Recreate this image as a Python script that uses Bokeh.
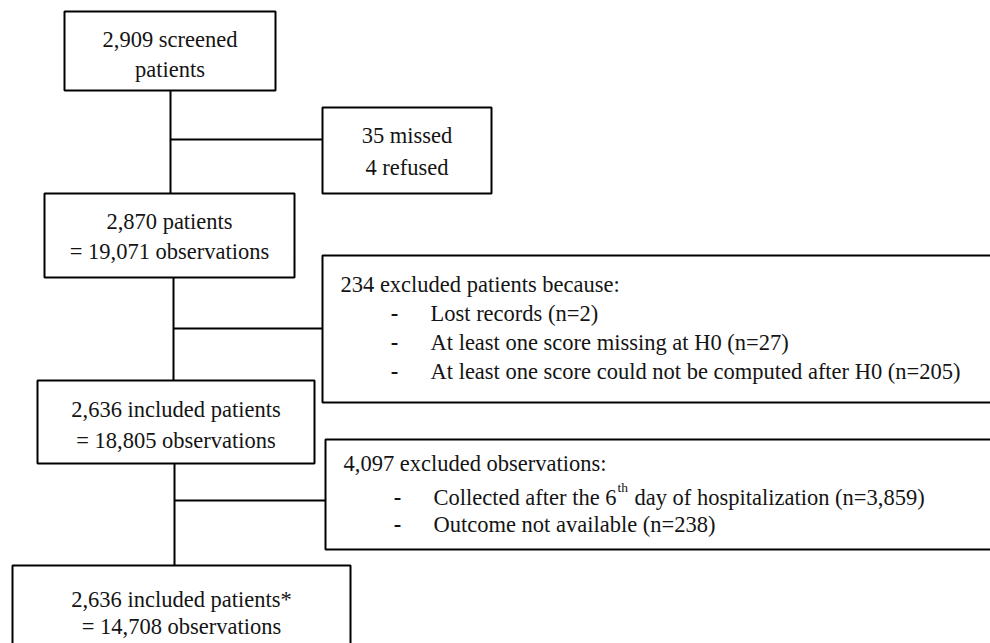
from bokeh.plotting import figure
from bokeh.models import Range1d
from bokeh.embed import file_html
from bokeh.resources import INLINE
from bokeh.core.properties import value

# ---------------- data (texts of the flow chart) ----------------
screened_lines = ["2,909 screened", "patients"]
refused_lines = ["35 missed", "4 refused"]
enrolled_lines = ["2,870 patients", "= 19,071 observations"]
excl_patients_header = "234 excluded patients because:"
excl_patients_items = ["Lost records (n=2)",
                       "At least one score missing at H0 (n=27)",
                       "At least one score could not be computed after H0 (n=205)"]
included_lines = ["2,636 included patients", "= 18,805 observations"]
excl_obs_header = "4,097 excluded observations:"
excl_obs_item1 = ["Collected after the 6", "th", " day of hospitalization (n=3,859)"]
excl_obs_item2 = "Outcome not available (n=238)"
final_lines = ["2,636 included patients*", "= 14,708 observations"]

# ---------------- layout (pixel space of the page) ----------------
FONT = value("Liberation Serif")
FS = "22.5px"
TXT = "#141414"

p = figure(width=990, height=643, output_backend="svg", toolbar_location=None,
           x_range=Range1d(0, 990), y_range=Range1d(643, 0),
           x_axis_location=None, y_axis_location=None, min_border=0)
p.grid.visible = False
p.outline_line_color = None

# boxes: left, right, top, bottom
boxes = [
    (64, 275, 11, 90),      # screened
    (322, 491, 107, 193),   # missed / refused
    (44, 294, 193, 277),    # 2,870 patients
    (322, 1010, 255, 402),  # 234 excluded
    (37, 314, 380, 463),    # 2,636 included
    (325, 1010, 439, 549),  # 4,097 excluded
    (12, 350, 565, 670),    # final
]
p.quad(left=[b[0] for b in boxes], right=[b[1] for b in boxes],
       top=[b[2] for b in boxes], bottom=[b[3] for b in boxes],
       fill_color="white", line_color="black", line_width=2)

# connectors
seg = [
    (170, 90, 170, 193),
    (170, 139, 322, 139),
    (173, 277, 173, 380),
    (173, 328, 322, 328),
    (174, 463, 174, 565),
    (174, 500, 325, 500),
]
p.segment(x0=[s[0] for s in seg], y0=[s[1] for s in seg],
          x1=[s[2] for s in seg], y1=[s[3] for s in seg],
          line_color="black", line_width=2)

# centred box texts (y = vertical middle of each line)
centred = [
    (screened_lines, 169.5, [39, 69]),
    (refused_lines, 406.5, [135, 167]),
    (enrolled_lines, 169, [221, 251]),
    (included_lines, 175.5, [409, 440]),
    (final_lines, 181, [599, 626]),
]
cx, cy, ct = [], [], []
for lines, x, ys in centred:
    for t, y in zip(lines, ys):
        cx.append(x); cy.append(y); ct.append(t)
p.text(x=cx, y=cy, text=ct, text_font=FONT, text_font_size=FS,
       text_align="center", text_baseline="middle", text_color=TXT)

# left aligned texts of the exclusion boxes
lx = [340, 430, 430, 430, 343, 433]
ly = [284, 313, 342, 371, 463, 524]
lt = [excl_patients_header] + excl_patients_items + [excl_obs_header, excl_obs_item2]
p.text(x=lx, y=ly, text=lt, text_font=FONT, text_font_size=FS,
       text_align="left", text_baseline="middle", text_color=TXT)

# item with superscript
p.text(x=[433], y=[497], text=[excl_obs_item1[0]], text_font=FONT, text_font_size=FS,
       text_align="left", text_baseline="middle", text_color=TXT)
p.text(x=[617], y=[487], text=[excl_obs_item1[1]], text_font=FONT, text_font_size="13.5px",
       text_align="left", text_baseline="middle", text_color=TXT)
p.text(x=[634], y=[497], text=[excl_obs_item1[2]], text_font=FONT, text_font_size=FS,
       text_align="left", text_baseline="middle", text_color=TXT)

# bullets
bx = [394, 394, 394, 397, 397]
by = [313, 342, 371, 497, 524]
p.text(x=bx, y=by, text=["-"] * len(bx), text_font=FONT, text_font_size=FS,
       text_font_style="bold", text_align="center", text_baseline="middle",
       text_color=TXT)

open("out.html", "w").write(file_html(p, INLINE))
